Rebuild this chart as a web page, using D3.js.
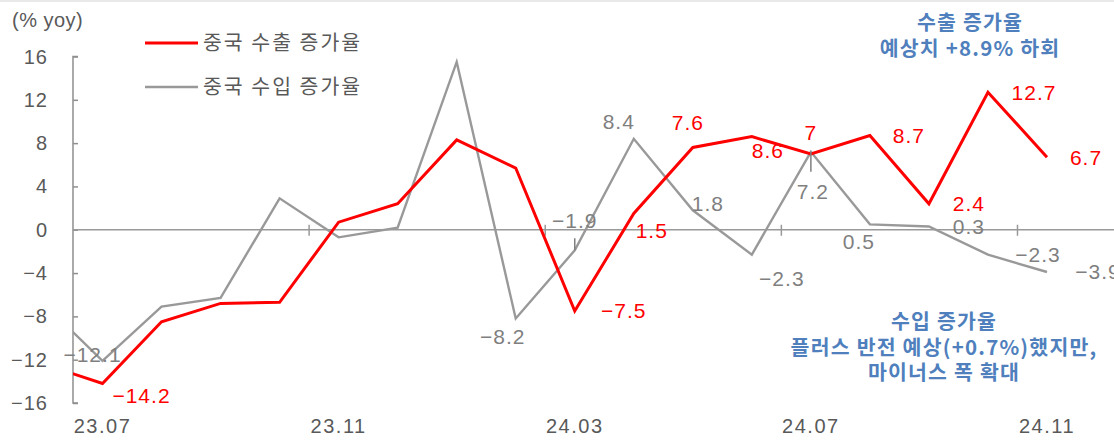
<!DOCTYPE html>
<html>
<head>
<meta charset="utf-8">
<script src="https://cdn.jsdelivr.net/npm/d3@7"></script>
<style>
  html, body { margin: 0; padding: 0; background: #fff; }
  svg { display: block; }
  .num { font-family: "Liberation Sans", Arial, sans-serif; }
  .kr { font-family: "Noto Sans CJK KR", "Noto Sans", sans-serif; }
</style>
</head>
<body>
<svg id="chart" width="1114" height="440"></svg>
<script>
// Monthly year-over-year growth of China's exports and imports (%).
// The first month (23.06) sits just outside the plot so the lines enter from the left edge.
const months = ["23.06", "23.07", "23.08", "23.09", "23.10", "23.11", "23.12",
                "24.01", "24.02", "24.03", "24.04", "24.05", "24.06", "24.07",
                "24.08", "24.09", "24.10", "24.11"];
const exportsYoY = [-12.4, -14.2, -8.5, -6.8, -6.7, 0.7, 2.4,
                    8.3, 5.7, -7.5, 1.5, 7.6, 8.6, 7.0,
                    8.7, 2.4, 12.7, 6.7];
const importsYoY = [-6.8, -12.1, -7.1, -6.3, 2.9, -0.7, 0.2,
                    15.5, -8.2, -1.9, 8.4, 1.8, -2.3, 7.2,
                    0.5, 0.3, -2.3, -3.9];
const xTickLabels = ["23.07", "23.11", "24.03", "24.07", "24.11"];
const yTicks = [16, 12, 8, 4, 0, -4, -8, -12, -16];
const legendNames = ["중국 수출 증가율", "중국 수입 증가율"];
const exportNote = ["수출 증가율", "예상치 +8.9% 하회"];
const importNote = ["수입 증가율", "플러스 반전 예상(+0.7%)했지만,", "마이너스 폭 확대"];

// Value-label placement: month index -> [dx, dy] of the label centre from its point,
// optional third entry = leader line length (towards the label).
const exportLabelPos = {
  1: [39, 12], 9: [49, 0], 10: [18, 17], 11: [-5, -25], 12: [16, 14],
  13: [0, -21], 14: [39, 0], 15: [40, 0], 16: [46, 0], 17: [39, 0]
};
const importLabelPos = {
  1: [-10, -6], 8: [-13, 18], 9: [0, -30, 12], 10: [-15, -17], 11: [15, -7],
  12: [30, 24], 13: [2, 40, 20], 14: [-11, 17], 15: [40, 0], 16: [50, 0], 17: [51, 0]
};

const RED = "#ff0000";
const GRAY_LINE = "#999999";
const AXIS = "#8f8f8f";
const TEXT = "#595959";
const LABEL_GRAY = "#7f7f7f";
const BLUE = "#4f7fbd";

const svg = d3.select("#chart");
const W = 1114, H = 440;

const x = d3.scaleLinear().domain([1, 17]).range([102.5, 1047]);
const y = d3.scaleLinear().domain([-16, 16]).range([403, 56.5]);
const plotLeft = x(0.5);

const fmt = v => (v < 0 ? "\u2212" : "") + Math.abs(v);

// thin frame edge at the top
svg.append("rect").attr("x", 0).attr("y", 0).attr("width", W).attr("height", 2).attr("fill", "#e9e9e9");

// unit caption
svg.append("text").attr("class", "num")
  .attr("x", 12).attr("y", 20).attr("dominant-baseline", "central")
  .attr("font-size", 20).attr("fill", TEXT).attr("letter-spacing", 0.5)
  .text("(% yoy)");

// y axis with inward ticks
const yAxis = d3.axisRight(y).tickValues(yTicks).tickSize(5).tickFormat("");
const yg = svg.append("g").attr("transform", `translate(${plotLeft},0)`).call(yAxis);
yg.select(".domain").attr("stroke", AXIS).attr("stroke-width", 1.5).attr("d", `M5,${y(16)}H0V${y(-16)}H5`);
yg.selectAll(".tick line").attr("stroke", AXIS).attr("stroke-width", 1.5);

svg.append("g").selectAll("text").data(yTicks).join("text")
  .attr("class", "num")
  .attr("x", 48).attr("y", d => y(d)).attr("dy", "0.35em")
  .attr("text-anchor", "end").attr("font-size", 20).attr("fill", TEXT)
  .attr("letter-spacing", 1)
  .text(fmt);

// zero line with category-group ticks
svg.append("line").attr("x1", plotLeft).attr("x2", W).attr("y1", y(0)).attr("y2", y(0))
  .attr("stroke", GRAY_LINE).attr("stroke-width", 1.5);
svg.append("g").selectAll("line").data([4.5, 8.5, 12.5, 16.5]).join("line")
  .attr("x1", d => x(d)).attr("x2", d => x(d))
  .attr("y1", y(0) - 5).attr("y2", y(0) + 6)
  .attr("stroke", GRAY_LINE).attr("stroke-width", 1.5);

// x tick labels
svg.append("g").selectAll("text").data(xTickLabels).join("text")
  .attr("class", "num")
  .attr("x", d => x(months.indexOf(d))).attr("y", 426).attr("dy", "0.35em")
  .attr("text-anchor", "middle").attr("font-size", 20).attr("fill", TEXT)
  .attr("letter-spacing", 1.5)
  .text(d => d);

// series lines, clipped to the plot area
svg.append("clipPath").attr("id", "plotClip")
  .append("rect").attr("x", plotLeft).attr("y", 0).attr("width", W - plotLeft).attr("height", H);

const line = d3.line().x((d, i) => x(i)).y(d => y(d));
const lines = svg.append("g").attr("clip-path", "url(#plotClip)");
lines.append("path").datum(importsYoY).attr("d", line)
  .attr("fill", "none").attr("stroke", GRAY_LINE).attr("stroke-width", 2.4).attr("stroke-linejoin", "miter");
lines.append("path").datum(exportsYoY).attr("d", line)
  .attr("fill", "none").attr("stroke", RED).attr("stroke-width", 3).attr("stroke-linejoin", "miter");

// value labels
function drawLabels(values, pos, color) {
  const idx = Object.keys(pos).map(Number);
  const g = svg.append("g");
  idx.forEach(i => {
    const [dx, dy, lead] = pos[i];
    const px = x(i), py = y(values[i]);
    if (lead) {
      const dir = Math.sign(dy);
      g.append("line")
        .attr("x1", px).attr("x2", px)
        .attr("y1", py).attr("y2", py + dir * lead)
        .attr("stroke", LABEL_GRAY).attr("stroke-width", 1.5);
    }
    g.append("text").attr("class", "num")
      .attr("x", px + dx).attr("y", py + dy).attr("dy", "0.35em")
      .attr("text-anchor", "middle").attr("font-size", 21).attr("fill", color)
      .attr("letter-spacing", 1)
      .text(fmt(values[i]));
  });
}
drawLabels(importsYoY, importLabelPos, LABEL_GRAY);
drawLabels(exportsYoY, exportLabelPos, RED);

// legend
const legend = svg.append("g");
[[RED, 3], [GRAY_LINE, 2.4]].forEach(([c, w], k) => {
  const ly = 43 + k * 44;
  legend.append("line").attr("x1", 145).attr("x2", 198).attr("y1", ly).attr("y2", ly)
    .attr("stroke", c).attr("stroke-width", w);
  legend.append("text").attr("class", "kr")
    .attr("x", 203).attr("y", ly).attr("dy", "0.36em")
    .attr("font-size", 20.5).attr("fill", TEXT).attr("letter-spacing", 2)
    .text(legendNames[k]);
});

// notes
function note(lines, cx, cy, gap) {
  const t = svg.append("text").attr("class", "kr")
    .attr("text-anchor", "middle").attr("font-size", 20.5)
    .attr("font-weight", "bold").attr("letter-spacing", 1.2).attr("fill", BLUE);
  lines.forEach((s, k) => {
    t.append("tspan").attr("x", cx).attr("y", cy + k * gap).attr("dy", "0.36em").text(s);
  });
}
note(exportNote, 970, 23, 26);
note(importNote, 944, 322, 25.5);
</script>
</body>
</html>
